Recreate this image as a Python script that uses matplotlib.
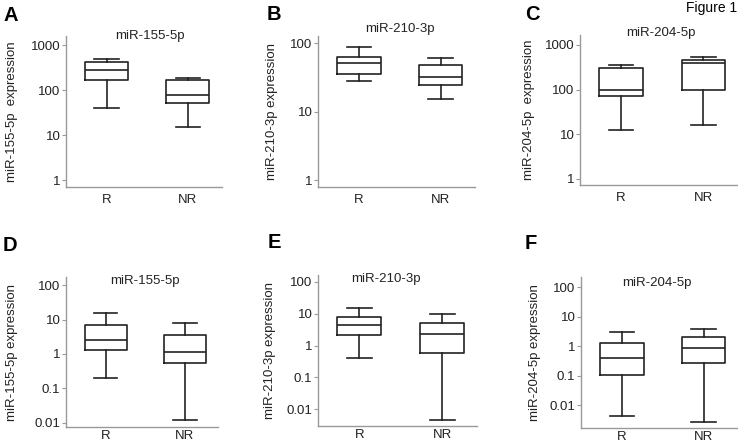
import numpy as np
import matplotlib.pyplot as plt
from matplotlib.ticker import FixedLocator, NullLocator

plt.rcParams['font.family'] = ['Liberation Sans', 'DejaVu Sans']

groups = ['R', 'NR']
panel_letters = ['A', 'B', 'C', 'D', 'E', 'F']
titles = ['miR-155-5p', 'miR-210-3p', 'miR-204-5p',
          'miR-155-5p', 'miR-210-3p', 'miR-204-5p']
ylabels = ['miR-155-5p  expression', 'miR-210-3p expression', 'miR-204-5p  expression',
           'miR-155-5p expression', 'miR-210-3p expression', 'miR-204-5p expression']

# box stats per panel: [R, NR] -> (whislo, q1, med, q3, whishi)
stats_A = [(39, 171, 272, 417, 480), (14.8, 52, 76, 165, 187)]
stats_B = [(28, 35, 51, 64, 87), (15.3, 24.5, 32.4, 47.6, 60)]
stats_C = [(12.7, 72, 100, 310, 357), (16.5, 100, 390, 455, 548)]
stats_D = [(0.2, 1.28, 2.55, 7.1, 15.8), (0.0117, 0.54, 1.12, 3.5, 7.7)]
stats_E = [(0.41, 2.1, 4.4, 7.7, 14.6), (0.0047, 0.58, 2.37, 5.0, 9.5)]
stats_F = [(0.0044, 0.105, 0.4, 1.3, 3.0), (0.0028, 0.275, 0.88, 2.04, 4.0)]
all_stats = [stats_A, stats_B, stats_C, stats_D, stats_E, stats_F]

yticks_top = [1, 10, 100, 1000]
yticks_bottom = [0.01, 0.1, 1, 10, 100]
tick_labels_top = ['1', '10', '100', '1000']
tick_labels_bottom = ['0.01', '0.1', '1', '10', '100']

W, H = 738, 444
# axes boxes in pixels: left, right, top, bottom
boxes_px = [(66, 222, 36, 187), (318, 475, 36, 187), (580, 738, 35, 185),
            (66, 218, 277, 427), (318, 477, 275, 426), (581, 738, 277, 428)]
ylims = [(0.7, 1590), (0.79, 128), (0.73, 1675),
         (0.0074, 174), (0.003, 162), (0.0017, 224)]
title_pos = [(0.54, 1.0), (0.52, 1.046), (0.51, 1.011),
             (0.52, 0.971), (0.43, 0.973), (0.48, 0.96)]
ylabel_off = [48, 40, 45, 48, 42, 40]
letter_pos = [(3, 6), (267, 5), (525, 5), (3, 236), (268, 233), (525, 234)]

fig = plt.figure(figsize=(W / 100, H / 100), dpi=100)

for i in range(6):
    l, r, t, b = boxes_px[i]
    ax = fig.add_axes([l / W, (H - b) / H, (r - l) / W, (b - t) / H])
    bx = [dict(label=g, whislo=s[0], q1=s[1], med=s[2], q3=s[3], whishi=s[4], fliers=[])
          for g, s in zip(groups, all_stats[i])]
    lp = dict(color='#222222', linewidth=1.2)
    ax.bxp(bx, positions=[1, 2], widths=0.53, capwidths=0.3, showfliers=False,
           boxprops=lp, whiskerprops=lp, capprops=lp, medianprops=lp)
    ax.set_yscale('log')
    ax.set_ylim(*ylims[i])
    ax.set_xlim(0.5, 2.42)
    if i < 3:
        ax.yaxis.set_major_locator(FixedLocator(yticks_top))
        ax.set_yticklabels(tick_labels_top)
    else:
        ax.yaxis.set_major_locator(FixedLocator(yticks_bottom))
        ax.set_yticklabels(tick_labels_bottom)
    ax.yaxis.set_minor_locator(NullLocator())
    for sp in ['top', 'right']:
        ax.spines[sp].set_visible(False)
    for sp in ['left', 'bottom']:
        ax.spines[sp].set_color('#999999')
        ax.spines[sp].set_linewidth(1.0)
    ax.tick_params(axis='y', length=3, width=0.8, color='#999999', labelsize=9.5, pad=1,
                   labelcolor='#222222')
    ax.tick_params(axis='x', length=0, labelsize=9.5, pad=5 if i < 3 else 2,
                   labelcolor='#222222')
    ax.set_ylabel(ylabels[i], fontsize=9.5, color='#222222')
    ax.yaxis.set_label_coords(-ylabel_off[i] / (r - l), 0.5)
    ax.text(title_pos[i][0], title_pos[i][1], titles[i], transform=ax.transAxes,
            ha='center', va='center', fontsize=9.5, color='#222222')
    fig.text(letter_pos[i][0] / W, 1 - letter_pos[i][1] / H, panel_letters[i],
             ha='left', va='top', fontsize=14.5, fontweight='bold')

fig.text(737 / W, 1 - 1 / H, 'Figure 1', ha='right', va='top', fontsize=10)

fig.savefig('out.png', dpi=100)
